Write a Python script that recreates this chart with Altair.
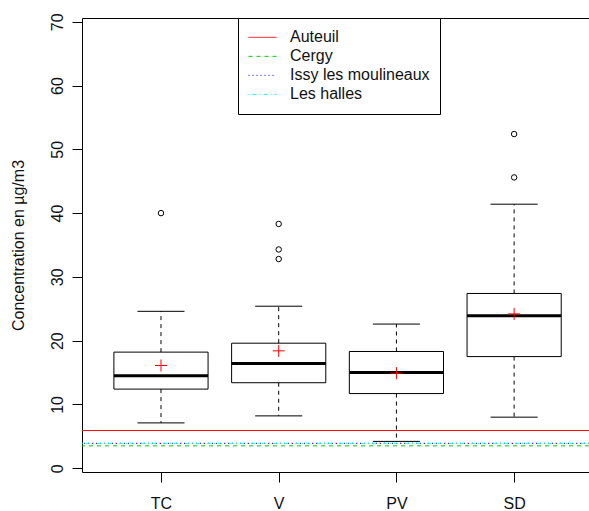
import altair as alt
import pandas as pd

# ---- data ----
categories = ["TC", "V", "PV", "SD"]
lower_whisker = [7.1, 8.2, 4.2, 8.0]
q1 = [12.4, 13.4, 11.7, 17.5]
median = [14.5, 16.4, 15.0, 23.9]
q3 = [18.2, 19.6, 18.3, 27.4]
upper_whisker = [24.6, 25.4, 22.6, 41.4]
means = [16.1, 18.4, 14.9, 24.2]

outlier_cat = ["TC", "V", "V", "V", "SD", "SD"]
outlier_val = [40.0, 38.3, 34.3, 32.8, 52.4, 45.6]

stations = ["Auteuil", "Cergy", "Issy les moulineaux", "Les halles"]
station_values = [5.9, 3.5, 3.9, 3.9]
station_colors = ["#FF0000", "#00CD00", "#0000FF", "#00FFFF"]
station_dashes = [[1, 0], [4, 4], [1, 3], [1, 3, 4, 3]]

y_ticks = [0, 10, 20, 30, 40, 50, 60, 70]

FONT = "Liberation Sans"

pos = {c: i + 1 for i, c in enumerate(categories)}
box_df = pd.DataFrame({
    "cat": categories,
    "pos": [pos[c] for c in categories],
    "lw": lower_whisker, "q1": q1, "med": median, "q3": q3,
    "uw": upper_whisker, "mean": means,
})
out_df = pd.DataFrame({"pos": [pos[c] for c in outlier_cat], "val": outlier_val})
ref_df = pd.DataFrame({"station": stations, "val": station_values})

label_js = "[" + ",".join("'" + c + "'" for c in categories) + "]"

xscale = alt.Scale(domain=[0.329, 4.636], nice=False, zero=False)
yscale = alt.Scale(domain=[-0.6, 70.6], nice=False, zero=False)

x_axis = alt.Axis(values=[1, 2, 3, 4], labelExpr=label_js + "[datum.value - 1]",
                  tickSize=10, labelPadding=13, labelFontSize=16, labelFont=FONT,
                  labelFontWeight="normal",
                  labelColor="#111111", tickColor="black", domain=False, grid=False,
                  title=None)
y_axis = alt.Axis(values=y_ticks, tickSize=10, labelPadding=15, labelAngle=-90,
                  labelAlign="center", labelBaseline="middle",
                  labelFontSize=16, labelFont=FONT, labelColor="#111111",
                  labelFontWeight="normal",
                  tickColor="black", domain=False, grid=False,
                  title="Concentration en µg/m3", titleFontSize=16, titleFont=FONT,
                  titleFontWeight="normal", titleColor="#111111", titleAngle=-90,
                  titleX=-64, titleY=227, titleAlign="center", titleBaseline="middle")

base = alt.Chart(box_df).transform_calculate(
    xlo="datum.pos - 0.4", xhi="datum.pos + 0.4",
    clo="datum.pos - 0.2", chi="datum.pos + 0.2",
)

boxes = base.mark_rect(fill="white", stroke="black", strokeWidth=1).encode(
    x=alt.X("xlo:Q", scale=xscale, axis=x_axis),
    x2="xhi:Q",
    y=alt.Y("q1:Q", scale=yscale, axis=y_axis),
    y2="q3:Q",
)

whisk_up = base.mark_rule(color="black", strokeWidth=1, strokeDash=[4, 4]).encode(
    x="pos:Q", y="q3:Q", y2="uw:Q")
whisk_lo = base.mark_rule(color="black", strokeWidth=1, strokeDash=[4, 4]).encode(
    x="pos:Q", y="q1:Q", y2="lw:Q")
cap_up = base.mark_rule(color="black", strokeWidth=1).encode(
    x="clo:Q", x2="chi:Q", y="uw:Q")
cap_lo = base.mark_rule(color="black", strokeWidth=1).encode(
    x="clo:Q", x2="chi:Q", y="lw:Q")
med = base.mark_rule(color="black", strokeWidth=3).encode(
    x="xlo:Q", x2="xhi:Q", y="med:Q")

mean_pts = base.mark_point(shape="M-1,0L1,0M0,-1L0,1", filled=False, color="#FF0000",
                           size=144, strokeWidth=1, opacity=1).encode(
    x="pos:Q", y="mean:Q")

outliers = alt.Chart(out_df).mark_point(shape="circle", filled=False, color="black",
                                        size=30, strokeWidth=1, opacity=1).encode(
    x="pos:Q", y="val:Q")

refs = alt.Chart(ref_df).mark_rule(strokeWidth=1, opacity=1).encode(
    y="val:Q",
    color=alt.Color("station:N", title=None,
                    scale=alt.Scale(domain=stations, range=station_colors),
                    legend=alt.Legend(orient="none", legendX=156, legendY=0,
                                      padding=10, strokeColor="black",
                                      fillColor="white", labelFontSize=16,
                                      labelFont=FONT, labelColor="#111111",
                                      symbolType="stroke", symbolSize=784,
                                      symbolStrokeWidth=1, symbolOpacity=1,
                                      labelOffset=13,
                                      clipHeight=18.7, rowPadding=0,
                                      cornerRadius=0, labelLimit=300)),
    strokeDash=alt.StrokeDash("station:N", title=None,
                              scale=alt.Scale(domain=stations, range=station_dashes)),
)

chart = alt.layer(
    boxes, whisk_up, whisk_lo, cap_up, cap_lo, med, mean_pts, outliers, refs
).properties(
    width=507, height=454,
    padding={"left": 82, "top": 18, "right": 0, "bottom": 39},
    autosize=alt.AutoSizeParams(type="none"),
    background="white",
).configure_view(stroke="black", strokeWidth=1)

chart.save("out.html", embed_options={"renderer": "svg", "actions": False})
